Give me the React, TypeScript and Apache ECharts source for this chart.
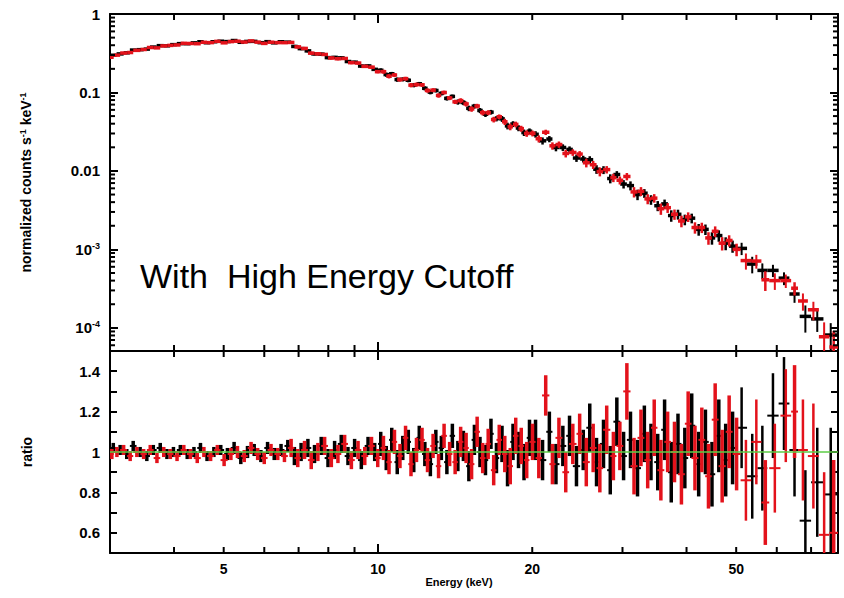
import React, { useEffect, useRef } from 'react';
import * as echarts from 'echarts';

// ---------- axis ranges & ticks ----------
const X_MIN = 3;
const X_MAX = 79;
const COUNTS_MIN = 5.07e-5;
const COUNTS_MAX = 1;
const RATIO_MIN = 0.5;
const RATIO_MAX = 1.5;
const RATIO_TICK_STEP = 0.1;

const xLabelValues = [5, 10, 20, 50];
const xMinorTickValues = [4, 5, 6, 7, 8, 9, 20, 30, 40, 50, 60, 70];
const countsLabelValues = [1e-4, 1e-3, 0.01, 0.1, 1];
const countsLabelTexts = ['10{sup|-4}', '10{sup|-3}', '0.01', '0.1', '1'];
const countsMinorTickValues = [
  6e-5, 7e-5, 8e-5, 9e-5,
  2e-4, 3e-4, 4e-4, 5e-4, 6e-4, 7e-4, 8e-4, 9e-4,
  2e-3, 3e-3, 4e-3, 5e-3, 6e-3, 7e-3, 8e-3, 9e-3,
  0.02, 0.03, 0.04, 0.05, 0.06, 0.07, 0.08, 0.09,
  0.2, 0.3, 0.4, 0.5, 0.6, 0.7, 0.8, 0.9,
];
const ratioLabelValues = [0.6, 0.8, 1, 1.2, 1.4];

// ---------- FPMA (black) ----------
const edgesA = [
  3.00, 3.09, 3.19, 3.28, 3.38, 3.49, 3.59, 3.70, 3.82, 3.93,
  4.05, 4.18, 4.31, 4.44, 4.57, 4.71, 4.86, 5.01, 5.16, 5.32,
  5.48, 5.65, 5.82, 6.00, 6.18, 6.37, 6.57, 6.77, 6.97, 7.19,
  7.41, 7.63, 7.87, 8.11, 8.35, 8.61, 8.87, 9.14, 9.42, 9.71,
  10.0, 10.25, 10.51, 10.77, 11.04, 11.32, 11.60, 11.89, 12.19, 12.50,
  12.81, 13.13, 13.46, 13.80, 14.14, 14.50, 14.86, 15.23, 15.62, 16.01,
  16.41, 16.82, 17.24, 17.68, 18.12, 18.57, 19.04, 19.51, 20.0, 20.6,
  21.3, 21.9, 22.6, 23.3, 24.0, 24.8, 25.5, 26.3, 27.1, 28.0,
  28.8, 29.7, 30.6, 31.6, 32.6, 33.6, 34.6, 35.7, 36.8, 37.9,
  39.1, 40.3, 41.6, 42.9, 44.2, 45.5, 47.0, 48.4, 50.0, 52.5,
  55.0, 57.5, 60.5, 63.5, 66.5, 70.0, 74.0, 79.0,
];
const countsA = [
  0.298, 0.310, 0.320, 0.347, 0.351, 0.357, 0.379, 0.395, 0.393, 0.407,
  0.419, 0.418, 0.429, 0.443, 0.430, 0.443, 0.450, 0.445, 0.459, 0.436,
  0.447, 0.448, 0.431, 0.444, 0.429, 0.443, 0.438, 0.386, 0.362, 0.339,
  0.310, 0.308, 0.278, 0.280, 0.276, 0.248, 0.243, 0.217, 0.218, 0.197,
  0.192, 0.169, 0.173, 0.146, 0.147, 0.143, 0.124, 0.129, 0.113, 0.101,
  0.106, 0.0973, 0.0841, 0.0891, 0.0757, 0.0744, 0.0628, 0.0668, 0.0590, 0.0528,
  0.0561, 0.0464, 0.0461, 0.0375, 0.0396, 0.0352, 0.0308, 0.0321,
  0.0293, 0.0242, 0.0255, 0.0199, 0.0199, 0.0188, 0.0146, 0.0142, 0.0139, 0.0105,
  0.0103, 0.0080, 0.0090, 0.0068, 0.0065, 0.0050, 0.0052, 0.0043, 0.0036, 0.0038,
  0.0027, 0.0028, 0.0024, 0.0025, 0.0018, 0.0018, 0.0014, 0.0015, 0.0012, 0.0011,
  0.00103, 0.00065, 0.00054, 0.00054, 0.00043, 0.00027, 0.00014, 0.00013, 0.000081,
];
const ratioA = [
  1.02, 1.01, 0.99, 1.03, 1.00, 0.98, 1.01, 1.02, 0.99, 1.00,
  1.01, 0.99, 1.00, 1.02, 0.98, 1.00, 1.01, 0.99, 1.02, 0.97,
  1.00, 1.01, 0.98, 1.02, 0.99, 1.01, 1.03, 0.98, 1.00, 1.02,
  0.99, 1.03, 0.97, 1.01, 1.04, 0.98, 1.02, 0.96, 1.03, 1.00,
  1.04, 0.97, 1.06, 0.95, 1.02, 1.05, 0.96, 1.07, 0.99, 0.94,
  1.05, 1.02, 0.95, 1.08, 0.98, 1.03, 0.93, 1.06, 1.00, 0.96,
  1.09, 0.97, 1.04, 0.92, 1.05, 1.01, 0.95, 1.07,
  1.06, 0.96, 1.10, 0.94, 1.03, 1.08, 0.93, 1.01, 1.12, 0.95,
  1.04, 0.91, 1.15, 0.98, 1.06, 0.92, 1.09, 1.00, 0.95, 1.11,
  0.90, 1.04, 0.97, 1.13, 0.94, 1.05, 0.89, 1.08, 0.96, 1.02,
  1.12, 0.88, 0.92, 1.18, 1.24, 1.01, 0.66, 0.85, 0.79,
];
const ratioErrA = [
  0.025, 0.025, 0.025, 0.025, 0.025, 0.025, 0.025, 0.025, 0.025, 0.025,
  0.025, 0.025, 0.025, 0.025, 0.025, 0.025, 0.025, 0.03, 0.03, 0.03,
  0.03, 0.03, 0.03, 0.03, 0.03, 0.03, 0.03, 0.045, 0.045, 0.045,
  0.045, 0.045, 0.045, 0.045, 0.045, 0.045, 0.045, 0.045, 0.045, 0.045,
  0.06, 0.06, 0.06, 0.06, 0.06, 0.06, 0.06, 0.06, 0.06, 0.06,
  0.06, 0.06, 0.06, 0.06, 0.075, 0.075, 0.075, 0.075, 0.075, 0.075,
  0.075, 0.075, 0.09, 0.09, 0.09, 0.09, 0.09, 0.09,
  0.10, 0.10, 0.10, 0.10, 0.10, 0.10, 0.10, 0.10, 0.12, 0.12,
  0.12, 0.12, 0.12, 0.12, 0.14, 0.14, 0.14, 0.14, 0.14, 0.15,
  0.15, 0.15, 0.15, 0.16, 0.16, 0.16, 0.16, 0.18, 0.18, 0.18,
  0.2, 0.21, 0.21, 0.21, 0.23, 0.23, 0.25, 0.27, 0.33,
];

// ---------- FPMB (red) ----------
const edgesB = [
  3.00, 3.05, 3.14, 3.24, 3.33, 3.44, 3.54, 3.65, 3.76, 3.88,
  3.99, 4.12, 4.24, 4.37, 4.51, 4.64, 4.79, 4.93, 5.09, 5.24,
  5.40, 5.57, 5.74, 5.91, 6.09, 6.28, 6.47, 6.67, 6.87, 7.08,
  7.30, 7.52, 7.75, 7.99, 8.23, 8.48, 8.74, 9.01, 9.28, 9.57,
  9.86, 10.12, 10.38, 10.64, 10.90, 11.18, 11.46, 11.74, 12.04, 12.34,
  12.65, 12.97, 13.29, 13.63, 13.97, 14.32, 14.68, 15.04, 15.42, 15.81,
  16.21, 16.61, 17.03, 17.46, 17.90, 18.34, 18.80, 19.27, 19.75, 20.3,
  20.9, 21.6, 22.2, 22.9, 23.6, 24.4, 25.1, 25.9, 26.7, 27.5,
  28.4, 29.2, 30.1, 31.1, 32.1, 33.1, 34.1, 35.1, 36.2, 37.3,
  38.5, 39.7, 40.9, 42.2, 43.5, 44.8, 46.2, 47.7, 49.2, 51.0,
  53.5, 56.0, 58.0, 61.0, 64.0, 66.0, 69.0, 72.5, 76.0, 79.0,
];
const countsB = [
  0.281, 0.299, 0.318, 0.323, 0.344, 0.353, 0.374, 0.370, 0.392, 0.398,
  0.403, 0.423, 0.421, 0.418, 0.436, 0.432, 0.448, 0.429, 0.445, 0.450,
  0.439, 0.454, 0.438, 0.422, 0.437, 0.432, 0.431, 0.434, 0.381, 0.364,
  0.317, 0.311, 0.305, 0.275, 0.269, 0.271, 0.240, 0.237, 0.215, 0.210, 0.184,
  0.184, 0.161, 0.167, 0.146, 0.150, 0.124, 0.126, 0.125, 0.106, 0.107,
  0.0916, 0.0999, 0.0851, 0.0760, 0.0788, 0.0714, 0.0616, 0.0671, 0.0553, 0.0553,
  0.0452, 0.0490, 0.0423, 0.0365, 0.0392, 0.0346, 0.0300, 0.0301,
  0.0257, 0.0311, 0.0209, 0.0217, 0.0167, 0.0172, 0.0164, 0.0127, 0.0120, 0.0098,
  0.0104, 0.0082, 0.0076, 0.0085, 0.0054, 0.0055, 0.0044, 0.0045, 0.0033, 0.0034,
  0.0028, 0.0023, 0.0026, 0.0019, 0.0019, 0.0014, 0.0017, 0.0012, 0.0013, 0.0010,
  0.00072, 0.00071, 0.00041, 0.00040, 0.00040, 0.00032, 0.00022, 0.00017, 0.000077, 0.000057,
];
const ratioB = [
  0.99, 1.00, 1.01, 0.98, 1.00, 0.99, 1.01, 0.97, 1.00, 0.99,
  0.98, 1.01, 0.99, 0.97, 1.00, 0.98, 1.01, 0.96, 0.99, 1.00,
  0.98, 1.02, 0.99, 0.97, 1.01, 0.99, 0.98, 1.02, 0.97, 1.01,
  0.96, 1.00, 1.03, 0.97, 0.99, 1.04, 0.96, 1.01, 0.98, 1.03, 0.97,
  1.02, 0.95, 1.05, 0.98, 1.07, 0.94, 1.01, 1.06, 0.96, 1.03,
  0.93, 1.08, 0.99, 0.95, 1.05, 1.02, 0.94, 1.10, 0.97, 1.04,
  0.91, 1.06, 0.99, 0.93, 1.08, 1.03, 0.96, 1.05,
  0.97, 1.28, 0.94, 1.07, 0.90, 1.04, 1.09, 0.95, 1.02, 0.92,
  1.11, 0.98, 1.03, 1.30, 0.93, 1.07, 0.96, 1.12, 0.91, 1.05,
  1.00, 0.89, 1.14, 0.97, 1.06, 0.88, 1.16, 0.93, 1.10, 0.99,
  0.86, 1.05, 0.75, 0.92, 1.18, 1.20, 1.01, 0.98, 0.59, 0.60,
];
const ratioErrB = [
  0.025, 0.025, 0.025, 0.025, 0.025, 0.025, 0.025, 0.025, 0.025, 0.025,
  0.025, 0.025, 0.025, 0.025, 0.025, 0.025, 0.025, 0.03, 0.03, 0.03,
  0.03, 0.03, 0.03, 0.03, 0.03, 0.03, 0.03, 0.045, 0.045, 0.045,
  0.045, 0.045, 0.045, 0.045, 0.045, 0.045, 0.045, 0.045, 0.045, 0.045, 0.045,
  0.06, 0.06, 0.06, 0.06, 0.06, 0.06, 0.06, 0.06, 0.06, 0.06,
  0.06, 0.06, 0.06, 0.06, 0.075, 0.075, 0.075, 0.075, 0.075, 0.075,
  0.075, 0.075, 0.09, 0.09, 0.09, 0.09, 0.09, 0.09,
  0.10, 0.10, 0.10, 0.10, 0.10, 0.10, 0.10, 0.12, 0.12, 0.12,
  0.12, 0.12, 0.12, 0.14, 0.14, 0.14, 0.14, 0.14, 0.15, 0.15,
  0.15, 0.15, 0.16, 0.16, 0.16, 0.16, 0.18, 0.18, 0.18, 0.18,
  0.2, 0.21, 0.21, 0.22, 0.23, 0.23, 0.25, 0.26, 0.31, 0.36,
];

// unity reference line in the ratio panel
const unityLine = [[X_MIN, 1], [X_MAX, 1]];

// ---------- styling ----------
const AXIS_COLOR = '#000';
const FONT = '"Liberation Sans", Arial, Helvetica, sans-serif';
const BLACK = '#000000';
const RED = '#e3121b';
const GREEN = '#5ccc46';

function buildBars(edges: number[], values: number[], errs: number[], ratios: number[] | null) {
  const out: number[][] = [];
  const n = Math.min(values.length, edges.length - 1, errs.length);
  for (let i = 0; i < n; i++) {
    const v = values[i];
    const e = ratios ? (v * errs[i]) / ratios[i] : errs[i];
    out.push([edges[i], edges[i + 1], v, Math.max(v - e, 1e-7), v + e]);
  }
  return out;
}

function barSeries(name: string, data: number[][], color: string, axisIdx: number, hWidth: number, vNarrow: number, vWide: number) {
  return {
    type: 'custom',
    name,
    xAxisIndex: axisIdx,
    yAxisIndex: axisIdx,
    clip: true,
    silent: true,
    encode: { x: [0, 1], y: [2, 3, 4] },
    data,
    renderItem: (params: any, api: any) => {
      const lo = api.value(0);
      const hi = api.value(1);
      const y = api.value(2);
      const yl = api.value(3);
      const yh = api.value(4);
      const c = Math.sqrt(lo * hi);
      const a = api.coord([lo, y]);
      const b = api.coord([hi, y]);
      const p = api.coord([c, yl]);
      const q = api.coord([c, yh]);
      const vWidth = Math.abs(b[0] - a[0]) < 9 ? vWide : vNarrow;
      return {
        type: 'group',
        children: [
          { type: 'line', shape: { x1: a[0], y1: a[1], x2: b[0], y2: b[1] }, style: { stroke: color, lineWidth: hWidth } },
          { type: 'line', shape: { x1: p[0], y1: p[1], x2: q[0], y2: q[1] }, style: { stroke: color, lineWidth: vWidth } },
        ],
      };
    },
  };
}

// inward x tick marks on the top and bottom edges of a panel, placed through the x scale
function xTickSeries(name: string, axisIdx: number, values: number[], yLo: number, yHi: number, len: number) {
  return {
    type: 'custom',
    name,
    xAxisIndex: axisIdx,
    yAxisIndex: axisIdx,
    silent: true,
    z: 20,
    encode: { x: [0, 1], y: [2, 3, 4] },
    data: values.map((v) => [v, v, yLo, yLo, yHi]),
    renderItem: (params: any, api: any) => {
      const e = api.value(0);
      const b = api.coord([e, api.value(3)]);
      const t = api.coord([e, api.value(4)]);
      return {
        type: 'group',
        children: [
          { type: 'rect', shape: { x: b[0] - 1, y: b[1] - len, width: 2, height: len }, style: { fill: AXIS_COLOR } },
          { type: 'rect', shape: { x: t[0] - 1, y: t[1], width: 2, height: len }, style: { fill: AXIS_COLOR } },
        ],
      };
    },
  };
}

// inward minor y tick marks on the left and right edges of a panel, placed through the y scale
function yTickSeries(name: string, axisIdx: number, values: number[], len: number) {
  return {
    type: 'custom',
    name,
    xAxisIndex: axisIdx,
    yAxisIndex: axisIdx,
    silent: true,
    z: 20,
    encode: { x: [0, 1], y: [2, 3, 4] },
    data: values.map((v) => [X_MIN, X_MAX, v, v, v]),
    renderItem: (params: any, api: any) => {
      const v = api.value(2);
      const l = api.coord([api.value(0), v]);
      const r = api.coord([api.value(1), v]);
      return {
        type: 'group',
        children: [
          { type: 'rect', shape: { x: l[0], y: l[1] - 1, width: len, height: 2 }, style: { fill: AXIS_COLOR } },
          { type: 'rect', shape: { x: r[0] - len, y: r[1] - 1, width: len, height: 2 }, style: { fill: AXIS_COLOR } },
        ],
      };
    },
  };
}

function xAxisDef(gridIndex: number, position: string, labels: boolean) {
  return {
    type: 'log',
    logBase: 10,
    gridIndex,
    position,
    min: X_MIN,
    max: X_MAX,
    axisLine: { show: true, onZero: false, lineStyle: { color: AXIS_COLOR, width: 2 } },
    axisTick: { show: true, inside: true, length: 9, lineStyle: { color: AXIS_COLOR, width: 2 } },
    minorTick: { show: false },
    splitLine: { show: false },
    axisLabel: labels
      ? {
          show: true,
          customValues: xLabelValues,
          formatter: (v: number) => String(Math.round(v)),
          color: '#000',
          fontSize: 14,
          fontWeight: 'bold',
          fontFamily: FONT,
          margin: 9,
        }
      : { show: false },
  };
}

function countsLabel(v: number) {
  let best = 0;
  let bestD = Infinity;
  countsLabelValues.forEach((t, i) => {
    const d = Math.abs(Math.log10(v) - Math.log10(t));
    if (d < bestD) {
      bestD = d;
      best = i;
    }
  });
  return countsLabelTexts[best];
}

function yCountsAxis(position: string, labels: boolean) {
  const ax: any = {
    type: 'log',
    logBase: 10,
    gridIndex: 0,
    position,
    min: COUNTS_MIN,
    max: COUNTS_MAX,
    axisLine: { show: true, onZero: false, lineStyle: { color: AXIS_COLOR, width: 2 } },
    axisTick: { show: true, inside: true, length: 8, lineStyle: { color: AXIS_COLOR, width: 2 } },
    minorTick: { show: false },
    splitLine: { show: false },
    axisLabel: labels
      ? {
          show: true,
          customValues: countsLabelValues,
          formatter: countsLabel,
          color: '#000',
          fontSize: 15,
          fontWeight: 'bold',
          fontFamily: FONT,
          margin: 10,
          lineHeight: 16,
          rich: {
            sup: { fontSize: 9, fontWeight: 'bold', fontFamily: FONT, color: '#000', verticalAlign: 'top', lineHeight: 9 },
          },
        }
      : { show: false },
  };
  if (labels) {
    ax.name = 'normalized counts s{sup|-1} keV{sup|-1}';
    ax.nameLocation = 'middle';
    ax.nameRotate = 90;
    ax.nameGap = 76;
    ax.nameTextStyle = {
      color: '#000',
      fontSize: 14,
      fontWeight: 'bold',
      fontFamily: FONT,
      lineHeight: 16,
      rich: { sup: { fontSize: 9, fontWeight: 'bold', fontFamily: FONT, color: '#000', verticalAlign: 'top', lineHeight: 9 } },
    };
  }
  return ax;
}

function yRatioAxis(position: string, labels: boolean) {
  const ax: any = {
    type: 'value',
    gridIndex: 1,
    position,
    min: RATIO_MIN,
    max: RATIO_MAX,
    interval: RATIO_TICK_STEP,
    axisLine: { show: true, onZero: false, lineStyle: { color: AXIS_COLOR, width: 2 } },
    axisTick: { show: true, inside: true, length: 7, lineStyle: { color: AXIS_COLOR, width: 2 } },
    minorTick: { show: false },
    splitLine: { show: false },
    axisLabel: labels
      ? {
          show: true,
          customValues: ratioLabelValues,
          formatter: (v: number) => String(Math.round(v * 10) / 10),
          color: '#000',
          fontSize: 15,
          fontWeight: 'bold',
          fontFamily: FONT,
          margin: 10,
        }
      : { show: false },
  };
  if (labels) {
    ax.name = 'ratio';
    ax.nameLocation = 'middle';
    ax.nameRotate = 90;
    ax.nameGap = 76;
    ax.nameTextStyle = { color: '#000', fontSize: 14, fontWeight: 'bold', fontFamily: FONT };
  }
  return ax;
}

export default function App() {
  const ref = useRef<HTMLDivElement>(null);

  useEffect(() => {
    if (!ref.current) return;
    const chart = echarts.init(ref.current, null, { renderer: 'svg' });

    const barsTopA = buildBars(edgesA, countsA, ratioErrA, ratioA);
    const barsTopB = buildBars(edgesB, countsB, ratioErrB, ratioB);
    const barsRatioA = buildBars(edgesA, ratioA, ratioErrA, null);
    const barsRatioB = buildBars(edgesB, ratioB, ratioErrB, null);

    const option: any = {
      animation: false,
      backgroundColor: '#ffffff',
      grid: [
        { left: 110, right: 6, top: 14, height: 337, containLabel: false },
        { left: 110, right: 6, top: 351, height: 202, containLabel: false },
      ],
      xAxis: [
        xAxisDef(0, 'bottom', false),
        xAxisDef(0, 'top', false),
        xAxisDef(1, 'bottom', true),
        xAxisDef(1, 'top', false),
      ],
      yAxis: [
        yCountsAxis('left', true),
        yCountsAxis('right', false),
        yRatioAxis('left', true),
        yRatioAxis('right', false),
      ],
      series: [
        xTickSeries('xt0', 0, xMinorTickValues, COUNTS_MIN, COUNTS_MAX, 6),
        xTickSeries('xt1', 2, xMinorTickValues, RATIO_MIN, RATIO_MAX, 6),
        yTickSeries('yt0', 0, countsMinorTickValues, 5),
        barSeries('FPMA counts', barsTopA, BLACK, 0, 3.5, 2, 2.5),
        barSeries('FPMB counts', barsTopB, RED, 0, 3.5, 2, 2.5),
        barSeries('FPMA ratio', barsRatioA, BLACK, 2, 2, 2.5, 3.5),
        barSeries('FPMB ratio', barsRatioB, RED, 2, 2, 2.5, 3.5),
        {
          type: 'line',
          name: 'model',
          xAxisIndex: 2,
          yAxisIndex: 2,
          data: unityLine,
          symbol: 'none',
          silent: true,
          z: 5,
          lineStyle: { color: GREEN, width: 1.5 },
        },
      ],
      graphic: [
        {
          type: 'text',
          left: 140,
          top: 259,
          style: {
            text: 'With  High Energy Cutoff',
            font: '34px "Liberation Sans", Arial, sans-serif',
            fill: '#000',
          },
        },
        {
          type: 'text',
          x: 459,
          y: 582,
          style: {
            text: 'Energy (keV)',
            font: 'bold 11px "Liberation Sans", Arial, sans-serif',
            fill: '#000',
            align: 'center',
            verticalAlign: 'middle',
          },
        },
      ],
    };

    chart.setOption(option);
    return () => chart.dispose();
  }, []);

  return (
    <div
      ref={ref}
      style={{ position: 'fixed', left: 0, top: 0, width: 844, height: 598, background: '#fff' }}
    />
  );
}
